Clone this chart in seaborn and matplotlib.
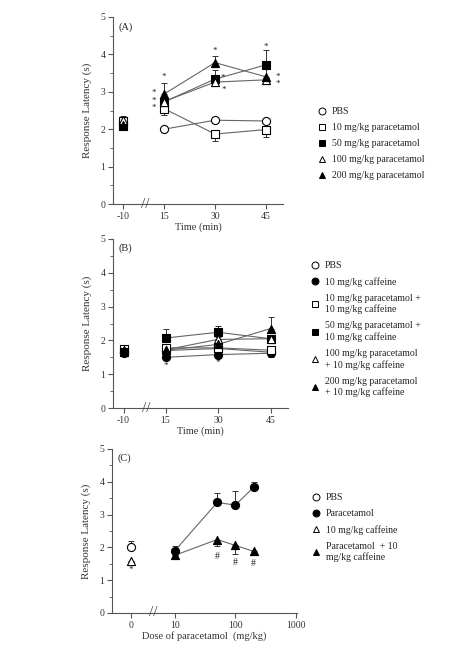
import matplotlib
matplotlib.use("Agg")
import matplotlib.pyplot as plt
from matplotlib.lines import Line2D
import seaborn as sns
import pandas as pd

sns.set_theme(style="ticks")
plt.rcParams['font.family'] = ['Liberation Serif', 'DejaVu Serif']
plt.rcParams['axes.edgecolor'] = '#555555'
plt.rcParams['xtick.color'] = '#555555'
plt.rcParams['ytick.color'] = '#555555'
plt.rcParams['xtick.labelcolor'] = '#333333'
plt.rcParams['ytick.labelcolor'] = '#333333'

# ---------------- data ----------------
time_labels = ['-10', '15', '30', '45']
time_pos = [3, 15, 30, 45]          # axis position of each time point (broken axis)

# Panel A
A_names = ['PBS', '10 mg/kg paracetamol', '50 mg/kg paracetamol',
           '100 mg/kg paracetamol', '200 mg/kg paracetamol']
A_pbs = [2.12, 2.00, 2.24, 2.22]
A_p10 = [2.22, 2.55, 1.87, 1.99]
A_p50 = [2.08, 2.73, 3.34, 3.72]
A_p100 = [2.24, 2.74, 3.26, 3.32]
A_p200 = [2.12, 2.94, 3.78, 3.40]
A_pbs_err = [0.05, 0.04, 0.06, 0.05]
A_p10_err = [0.20, 0.18, 0.18, 0.19]
A_p50_err = [0.06, 0.10, 0.25, 0.40]
A_p100_err = [0.10, 0.08, 0.08, 0.05]
A_p200_err = [0.05, 0.29, 0.18, 0.20]

# Panel B
B_names = ['PBS', '10 mg/kg caffeine', '10 mg/kg paracetamol +\n10 mg/kg caffeine',
           '50 mg/kg paracetamol +\n10 mg/kg caffeine',
           '100 mg/kg paracetamol\n+ 10 mg/kg caffeine',
           '200 mg/kg paracetamol\n+ 10 mg/kg caffeine']
B_pbs = [1.65, 1.70, 1.76, 1.65]
B_caf = [1.62, 1.50, 1.58, 1.62]
B_p10 = [1.76, 1.78, 1.78, 1.71]
B_p50 = [1.65, 2.07, 2.24, 2.05]
B_p100 = [1.70, 1.72, 2.03, 2.05]
B_p200 = [1.72, 1.71, 1.88, 2.35]
B_pbs_err = [0.05, 0.05, 0.05, 0.05]
B_caf_err = [0.05, 0.07, 0.10, 0.10]
B_p10_err = [0.06, 0.06, 0.06, 0.12]
B_p50_err = [0.05, 0.27, 0.20, 0.08]
B_p100_err = [0.05, 0.06, 0.08, 0.08]
B_p200_err = [0.05, 0.06, 0.08, 0.34]

# Panel C
C_names = ['PBS', 'Paracetamol', '10 mg/kg caffeine', 'Paracetamol  + 10\nmg/kg caffeine']
dose_labels = ['0', '10', '100', '1000']
dose_ticks = [1.88, 10, 100, 1000]
control_pos = 1.88                  # axis position for dose 0
C_doses = [10, 50, 100, 200]
C_pbs = [2.02]
C_pbs_err = [0.17]
C_caf = [1.60]
C_caf_err = [0.06]
C_para = [1.90, 3.37, 3.29, 3.83]
C_para_err = [0.15, 0.29, 0.42, 0.15]
C_paracaf = [1.76, 2.24, 2.06, 1.88]
C_paracaf_err = [0.06, 0.19, 0.25, 0.10]

# ---------------- styles ----------------
LINE_C = '#666666'
MS = 34

def style_axis(ax):
    sns.despine(ax=ax)
    ax.set_ylim(0, 5)
    ax.set_yticks([0, 1, 2, 3, 4, 5])
    ax.set_yticks([0.5, 1.5, 2.5, 3.5, 4.5], minor=True)
    ax.tick_params(axis='both', which='major', direction='out', length=3.5, width=0.8,
                   labelsize=7, pad=2)
    ax.tick_params(axis='y', which='minor', direction='out', length=2, width=0.6)
    ax.tick_params(axis='x', which='minor', length=0)
    for s in ax.spines.values():
        s.set_linewidth(0.8)
    ax.set_ylabel('Response Latency (s)', fontsize=8, labelpad=6, color='#333333')


def series(ax, xs, ys, errs, marker, fill, direction, connect_from=1):
    df = pd.DataFrame({'x': xs, 'y': ys})
    if len(xs) - connect_from > 1:
        sns.lineplot(data=df.iloc[connect_from:], x='x', y='y', ax=ax, color=LINE_C,
                     lw=0.8, zorder=2, legend=False)
    lower = [e if direction < 0 else 0 for e in errs]
    upper = [e if direction > 0 else 0 for e in errs]
    ax.errorbar(xs, ys, yerr=[lower, upper], fmt='none', ecolor='#333333',
                elinewidth=0.7, capsize=2.2, capthick=0.7, zorder=2.5)
    sns.scatterplot(data=df, x='x', y='y', ax=ax, marker=marker, s=MS,
                    facecolor=fill, edgecolor='black', linewidth=0.8, zorder=3,
                    legend=False)


def legend(ax, names, markers, fills, x, y, ls=0.72):
    handles = [Line2D([], [], linestyle='none', marker=m, markersize=5,
                      markerfacecolor=f, markeredgecolor='black', markeredgewidth=0.7)
               for m, f in zip(markers, fills)]
    leg = ax.legend(handles, names, loc='upper left', bbox_to_anchor=(x, y),
                    bbox_transform=ax.figure.transFigure, frameon=False, fontsize=7,
                    handlelength=1.0, handletextpad=0.5, labelspacing=ls,
                    borderpad=0, borderaxespad=0)
    for t in leg.get_texts():
        t.set_linespacing(1.25)
        t.set_color('#222222')


fig = plt.figure(figsize=(4.5, 6.5), dpi=100)
axA = fig.add_axes([113/450, 1-204/650, 170/450, 187/650])
axB = fig.add_axes([113/450, 1-408/650, 175/450, 169/650])
axC = fig.add_axes([112/450, 1-613/650, 185/450, 164/650])

STAR = dict(fontsize=6.5, ha='center', va='center', color='#222222')

# ---------- Panel A ----------
A_markers = ['o', 's', 's', '^', '^']
A_fills = ['white', 'white', 'black', 'white', 'black']
A_dirs = [1, -1, 1, 1, 1]
for ys, es, m, f, d in zip([A_pbs, A_p10, A_p50, A_p100, A_p200],
                           [A_pbs_err, A_p10_err, A_p50_err, A_p100_err, A_p200_err],
                           A_markers, A_fills, A_dirs):
    series(axA, time_pos, ys, es, m, f, d)
style_axis(axA)
axA.set_xlim(0, 50)
axA.set_xticks(time_pos)
axA.set_xticklabels(time_labels)
axA.set_xlabel('Time (min)', fontsize=7.5, labelpad=1, color='#333333')
axA.text(0.03, 0.93, '(A)', transform=axA.transAxes, fontsize=7.5, color='#222222')
axA.text(9.5, 0, '//', fontsize=11, ha='center', va='center', color='#444444', clip_on=False)
for x, y in [(15, 3.40), (12.0, 2.96), (12.0, 2.76), (12.0, 2.56),
             (30, 4.10), (32.3, 3.36), (32.7, 3.06),
             (45, 4.19), (48.4, 3.40), (48.4, 3.21)]:
    axA.text(x, y, '*', **STAR)
legend(axA, A_names, A_markers, A_fills, 317/450, 1-107/650)

# ---------- Panel B ----------
B_markers = ['o', 'o', 's', 's', '^', '^']
B_fills = ['white', 'black', 'white', 'black', 'white', 'black']
B_dirs = [1, -1, -1, 1, 1, 1]
for ys, es, m, f, d in zip([B_pbs, B_caf, B_p10, B_p50, B_p100, B_p200],
                           [B_pbs_err, B_caf_err, B_p10_err, B_p50_err, B_p100_err, B_p200_err],
                           B_markers, B_fills, B_dirs):
    series(axB, time_pos, ys, es, m, f, d)
style_axis(axB)
axB.set_xlim(0, 50)
axB.set_xticks(time_pos)
axB.set_xticklabels(time_labels)
axB.set_xlabel('Time (min)', fontsize=7.5, labelpad=1, color='#333333')
axB.text(0.03, 0.93, '(B)', transform=axB.transAxes, fontsize=7.5, color='#222222')
axB.text(9.5, 0, '//', fontsize=11, ha='center', va='center', color='#444444', clip_on=False)
for x, y in [(15, 1.26), (30, 1.33)]:
    axB.text(x, y, '*', **STAR)
legend(axB, B_names, B_markers, B_fills, 310/450, 1-261/650)

# ---------- Panel C ----------
series(axC, [control_pos], C_pbs, C_pbs_err, 'o', 'white', 1)
series(axC, [control_pos], C_caf, C_caf_err, '^', 'white', -1)
series(axC, C_doses, C_para, C_para_err, 'o', 'black', 1, connect_from=0)
series(axC, C_doses, C_paracaf, C_paracaf_err, '^', 'black', -1, connect_from=0)
axC.set_xscale('log')
style_axis(axC)
axC.set_xlim(0.91, 1047)
axC.set_xticks(dose_ticks)
axC.set_xticklabels(dose_labels)
axC.xaxis.set_minor_locator(matplotlib.ticker.NullLocator())
axC.set_xlabel('Dose of paracetamol  (mg/kg)', fontsize=7.5, labelpad=1, color='#333333')
axC.text(0.03, 0.93, '(C)', transform=axC.transAxes, fontsize=7.5, color='#222222')
axC.text(4.3, 0, '//', fontsize=11, ha='center', va='center', color='#444444', clip_on=False)
axC.text(control_pos, 1.30, '*', **STAR)
for x, y in [(50, 1.71), (100, 1.55), (200, 1.52)]:
    axC.text(x, y, '#', fontsize=7, ha='center', va='center', color='#222222')
legend(axC, C_names, ['o', 'o', '^', '^'], ['white', 'black', 'white', 'black'],
       311/450, 1-493/650)

fig.savefig('out.png', dpi=100)
